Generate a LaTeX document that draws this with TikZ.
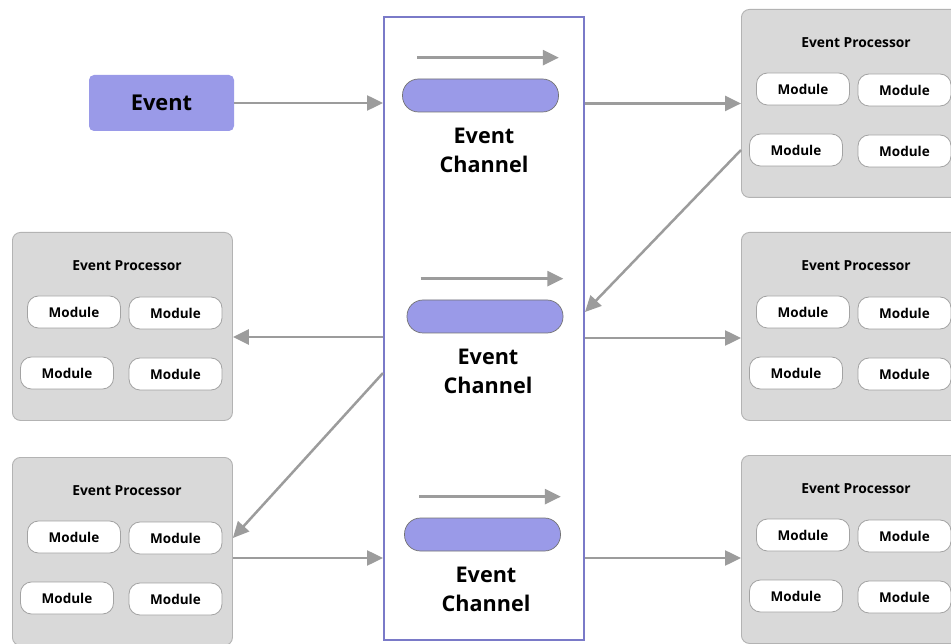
\documentclass[tikz,border=0pt]{standalone}
\usepackage{fontspec}
\setmainfont{Open Sans}
\usetikzlibrary{arrows.meta,calc}
\definecolor{lav}{HTML}{9A9AE8}
\definecolor{busline}{HTML}{7A7AC8}
\definecolor{procfill}{HTML}{D9D9D9}
\definecolor{procline}{HTML}{B3B3B3}
\definecolor{modline}{HTML}{A3A3A3}
\definecolor{arrowgray}{HTML}{9C9C9C}
\tikzset{
  procbox/.style={draw=procline, fill=procfill, line width=0.9pt, rounded corners=8pt,
    minimum width=220pt, minimum height=188pt, inner sep=0pt},
  proctitle/.style={font=\fontsize{13.8}{16}\selectfont\bfseries, inner sep=0pt},
  modbox/.style={draw=modline, fill=white, line width=0.8pt, rounded corners=11pt,
    minimum width=93pt, minimum height=32pt, inner sep=0pt,
    font=\fontsize{13.5}{15}\selectfont\bfseries},
  pill/.style={draw=black!55, fill=lav, line width=0.7pt, rounded corners=16pt,
    minimum width=156pt, minimum height=33pt, inner sep=0pt},
  chlabel/.style={align=center, font=\fontsize{21.6}{29}\selectfont\bfseries, inner sep=0pt},
  conn/.style={draw=arrowgray, line width=2.5pt,
    -{Triangle[length=16pt,width=15pt]}},
  flow/.style={draw=arrowgray, line width=2.5pt,
    -{Triangle[length=16pt,width=15pt]}},
}
% an event processor holding four modules; #1 name, (#2,#3) top left corner
\newcommand\evproc[3]{%
  \node[procbox, anchor=north west] (#1) at (#2,#3) {};
  \node[proctitle] (#1t) at ($(#1.north west)+(115,34)$) {Event Processor};
  \node[modbox] (#1a) at ($(#1.north west)+(62,80)$) {Module};
  \node[modbox] (#1b) at ($(#1.north west)+(163.5,81)$) {Module};
  \node[modbox] (#1c) at ($(#1.north west)+(55,141)$) {Module};
  \node[modbox] (#1d) at ($(#1.north west)+(163.5,142)$) {Module};
}
\begin{document}
\begin{tikzpicture}[x=1pt,y=-1pt]
\useasboundingbox (0,0) rectangle (951,644);
\clip (0,0) rectangle (951,644);
\fill[white] (0,0) rectangle (951,644);

% event source
\node[fill=lav, rounded corners=5pt, minimum width=145pt, minimum height=56pt,
  inner sep=0pt, font=\fontsize{21.8}{24}\selectfont\bfseries] (event) at (161.5,103) {Event};

% channel column
\node[draw=busline, line width=2pt, minimum width=200pt, minimum height=623pt,
  inner sep=0pt] (bus) at (484,328.5) {};

% three event channels
\node[pill] (ch1) at (480.5,95.5) {};
\node[chlabel] (ch1t) at (484,150) {Event\\Channel};
\node[pill] (ch2) at (485,316.5) {};
\node[chlabel] (ch2t) at (488,371.5) {Event\\Channel};
\node[pill] (ch3) at (482.5,534.5) {};
\node[chlabel] (ch3t) at (486,589.5) {Event\\Channel};

\draw[flow] ([shift={(15pt,21pt)}]ch1.north west) -- ([yshift=21pt]ch1.north east);
\draw[flow] ([shift={(14pt,21pt)}]ch2.north west) -- ([yshift=21pt]ch2.north east);
\draw[flow] ([shift={(15pt,21pt)}]ch3.north west) -- ([yshift=21pt]ch3.north east);

% event processors
\evproc{rt}{741}{9}
\evproc{lm}{12}{232}
\evproc{rm}{741}{232}
\evproc{lb}{12}{457}
\evproc{rb}{741}{455}

% connectors
\coordinate (rtout) at (rt.west |- 0,150);
\coordinate (bus2in) at (bus.east |- 0,312);
\coordinate (bus2outl) at (bus.west |- 0,373);
\coordinate (lbin) at (lb.east |- 0,538);
\coordinate (lbout) at (lb.east |- 0,558);

\draw[conn] (event.east) -- (event.east -| bus.west);
\draw[conn] (rt.west -| bus.east) -- (rt.west);
\draw[conn] (rtout) -- (bus2in);
\draw[conn] (bus.west |- 0,337) -- (lm.east |- 0,337);
\draw[conn] (bus.east |- 0,338) -- (rm.west |- 0,338);
\draw[conn] (bus2outl) -- (lbin);
\draw[conn] (lbout) -- (bus.west |- lbout);
\draw[conn] (bus.east |- 0,558) -- (rb.west |- 0,558);
\end{tikzpicture}
\end{document}
